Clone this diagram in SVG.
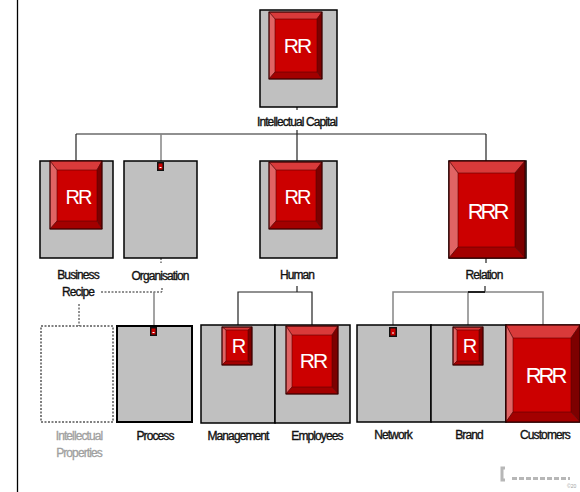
<svg xmlns="http://www.w3.org/2000/svg" width="580" height="492" viewBox="0 0 580 492">
<style>
.box{fill:#c0c0c0;stroke:#000;stroke-width:1.5}
.ghost{fill:#fff;stroke:#000;stroke-width:1;stroke-dasharray:2 1.5}
.face{fill:#cc0000}
.bt{fill:#d93a3a;stroke:#5a0000;stroke-width:0.6}
.bl{fill:#e06464;stroke:#5a0000;stroke-width:0.6}
.br{fill:#7d0000;stroke:#5a0000;stroke-width:0.6}
.bb{fill:#a30000;stroke:#5a0000;stroke-width:0.6}
.bo{fill:none;stroke:#300;stroke-width:1}
.rt{font-family:"Liberation Sans",Arial,sans-serif;fill:#fff;text-anchor:middle;letter-spacing:-2px}
.lbl{font-family:"Liberation Sans",Arial,sans-serif;font-size:12px;fill:#111;stroke:#111;stroke-width:0.35;text-anchor:middle;letter-spacing:-0.9px}
.glbl{font-family:"Liberation Sans",Arial,sans-serif;font-size:12px;fill:#a0a0a0;stroke:#a0a0a0;stroke-width:0.3;text-anchor:middle;letter-spacing:-0.9px}
.ln{stroke:#222;stroke-width:1.2;fill:none}
.gl{stroke:#858585;stroke-width:1.5;fill:none}
.dl{stroke:#222;stroke-width:1;stroke-dasharray:2 1.5;fill:none}
</style>
<rect x="0" y="0" width="580" height="492" fill="#fff"/>
<line x1="17.5" y1="0" x2="17.5" y2="492" stroke="#000" stroke-width="1.3"/>

<g id="connectors">
  <line class="ln" x1="297" y1="107" x2="297" y2="110"/>
  <line class="ln" x1="76" y1="134" x2="486" y2="134"/>
  <line class="ln" x1="76" y1="134" x2="76" y2="161"/>
  <line class="gl" x1="161" y1="134" x2="161" y2="161"/>
  <line class="ln" x1="297" y1="130" x2="297" y2="161"/>
  <line class="ln" x1="486" y1="134" x2="486" y2="161"/>
  <line class="dl" x1="161" y1="258" x2="161" y2="263"/>
  <line class="ln" x1="486" y1="258" x2="486" y2="263"/>
  <polyline class="dl" points="101,292 162,292 162,288"/>
  <line class="gl" x1="154" y1="292" x2="154" y2="327"/>
  <line class="dl" x1="79" y1="304" x2="79" y2="326"/>
  <line class="ln" x1="297" y1="286" x2="297" y2="292"/>
  <polyline class="ln" points="238,325 238,292 312,292 312,325"/>
  <line class="ln" x1="485" y1="286" x2="485" y2="292"/>
  <polyline class="gl" points="393,325 393,292 543,292 543,325"/>
  <line class="gl" x1="468" y1="292" x2="468" y2="325"/>
  <line x1="468" y1="292" x2="485" y2="292" stroke="#000" stroke-width="1.6"/>
</g>

<g id="intellectual-capital">
  <rect class="box" x="260" y="10" width="77" height="97"/>
  <rect class="face" x="275" y="19" width="42" height="53"/>
  <polygon class="bt" points="269,12 322,12 317,19 275,19"/>
  <polygon class="bl" points="269,12 275,19 275,72 269,79"/>
  <polygon class="br" points="322,12 322,79 317,72 317,19"/>
  <polygon class="bb" points="269,79 275,72 317,72 322,79"/>
  <rect class="bo" x="269" y="12" width="53" height="67"/>
  <text class="rt" x="297" y="53" font-size="21">RR</text>
  <text class="lbl" x="297" y="126">Intellectual Capital</text>
</g>

<g id="business-recipe">
  <rect class="box" x="40" y="161" width="73" height="97"/>
  <rect class="face" x="57" y="170" width="40" height="51"/>
  <polygon class="bt" points="50,161 102,161 97,170 57,170"/>
  <polygon class="bl" points="50,161 57,170 57,221 50,229"/>
  <polygon class="br" points="102,161 102,229 97,221 97,170"/>
  <polygon class="bb" points="50,229 57,221 97,221 102,229"/>
  <rect class="bo" x="50" y="161" width="52" height="68"/>
  <text class="rt" x="78" y="204" font-size="20">RR</text>
  <text class="lbl" x="78" y="279">Business</text>
  <text class="lbl" x="78" y="296">Recipe</text>
</g>

<g id="organisation">
  <rect class="box" x="124" y="161" width="73" height="97"/>
  <rect x="157" y="162" width="7" height="9" fill="#111"/>
  <rect x="158.5" y="163.5" width="4" height="6" fill="#cc0000"/>
  <rect x="159.5" y="167" width="2" height="1" fill="#fff"/>
  <text class="lbl" x="160" y="280">Organisation</text>
</g>

<g id="human">
  <rect class="box" x="260" y="161" width="77" height="97"/>
  <rect class="face" x="276" y="170" width="40" height="51"/>
  <polygon class="bt" points="269,162 322,162 316,170 276,170"/>
  <polygon class="bl" points="269,162 276,170 276,221 269,229"/>
  <polygon class="br" points="322,162 322,229 316,221 316,170"/>
  <polygon class="bb" points="269,229 276,221 316,221 322,229"/>
  <rect class="bo" x="269" y="162" width="53" height="67"/>
  <text class="rt" x="297" y="204" font-size="20">RR</text>
  <text class="lbl" x="297" y="279">Human</text>
</g>

<g id="relation">
  <rect class="box" x="449" y="161" width="77" height="97"/>
  <rect class="face" x="458" y="173" width="57" height="74"/>
  <polygon class="bt" points="449,161 525,161 515,173 458,173"/>
  <polygon class="bl" points="449,161 458,173 458,247 449,258"/>
  <polygon class="br" points="525,161 525,258 515,247 515,173"/>
  <polygon class="bb" points="449,258 458,247 515,247 525,258"/>
  <rect class="bo" x="449" y="161" width="76" height="97"/>
  <text class="rt" x="487" y="219" font-size="22" style="letter-spacing:-3px">RRR</text>
  <text class="lbl" x="484" y="279">Relation</text>
</g>

<g id="intellectual-properties">
  <rect class="ghost" x="41" y="326" width="72" height="96"/>
  <text class="glbl" x="79" y="440">Intellectual</text>
  <text class="glbl" x="79" y="457">Properties</text>
</g>

<g id="process">
  <rect class="box" x="117" y="326" width="75" height="96" style="stroke-width:2"/>
  <rect x="150" y="327" width="7" height="9" fill="#111"/>
  <rect x="151.5" y="328.5" width="4" height="6" fill="#cc0000"/>
  <rect x="152.5" y="332" width="2" height="1" fill="#fff"/>
  <text class="lbl" x="155" y="440">Process</text>
</g>

<g id="management">
  <rect class="box" x="201" y="325" width="74" height="98"/>
  <rect class="face" x="226" y="330" width="22" height="31"/>
  <polygon class="bt" points="222,327 252,327 248,330 226,330"/>
  <polygon class="bl" points="222,327 226,330 226,361 222,365"/>
  <polygon class="br" points="252,327 252,365 248,361 248,330"/>
  <polygon class="bb" points="222,365 226,361 248,361 252,365"/>
  <rect class="bo" x="222" y="327" width="30" height="38"/>
  <text class="rt" x="238" y="353" font-size="20">R</text>
  <text class="lbl" x="238" y="440">Management</text>
</g>

<g id="employees">
  <rect class="box" x="275" y="325" width="75" height="98"/>
  <rect class="face" x="292" y="335" width="40" height="52"/>
  <polygon class="bt" points="286,326 338,326 332,335 292,335"/>
  <polygon class="bl" points="286,326 292,335 292,387 286,394"/>
  <polygon class="br" points="338,326 338,394 332,387 332,335"/>
  <polygon class="bb" points="286,394 292,387 332,387 338,394"/>
  <rect class="bo" x="286" y="326" width="52" height="68"/>
  <text class="rt" x="313" y="368" font-size="21">RR</text>
  <text class="lbl" x="317" y="440">Employees</text>
</g>

<g id="network">
  <rect class="box" x="357" y="325" width="74" height="97"/>
  <rect x="389" y="327" width="8" height="10" fill="#111"/>
  <rect x="390.5" y="328.5" width="5" height="7" fill="#cc0000"/>
  <rect x="392" y="332.5" width="2" height="1" fill="#fff"/>
  <text class="lbl" x="393" y="439">Network</text>
</g>

<g id="brand">
  <rect class="box" x="431" y="325" width="75" height="97"/>
  <rect class="face" x="457" y="330" width="22" height="31"/>
  <polygon class="bt" points="453,327 483,327 479,330 457,330"/>
  <polygon class="bl" points="453,327 457,330 457,361 453,365"/>
  <polygon class="br" points="483,327 483,365 479,361 479,330"/>
  <polygon class="bb" points="453,365 457,361 479,361 483,365"/>
  <rect class="bo" x="453" y="327" width="30" height="38"/>
  <text class="rt" x="469" y="353" font-size="20">R</text>
  <text class="lbl" x="469" y="439">Brand</text>
</g>

<g id="customers">
  <rect class="box" x="506" y="325" width="74" height="97"/>
  <rect class="face" x="513" y="338" width="58" height="74"/>
  <polygon class="bt" points="506,325 580,325 571,338 513,338"/>
  <polygon class="bl" points="506,325 513,338 513,412 506,422"/>
  <polygon class="br" points="580,325 580,422 571,412 571,338"/>
  <polygon class="bb" points="506,422 513,412 571,412 580,422"/>
  <rect class="bo" x="506" y="325" width="74" height="97"/>
  <text class="rt" x="545" y="383" font-size="22" style="letter-spacing:-3px">RRR</text>
  <text class="lbl" x="545" y="439">Customers</text>
</g>

<g id="watermark" opacity="0.7">
  <path d="M505,468 h-3 v12 h3" fill="none" stroke="#999" stroke-width="3"/>
  <line x1="512" y1="478.5" x2="570" y2="478.5" stroke="#999" stroke-width="3" stroke-dasharray="5 2"/>
  <text x="567" y="488" font-family="Liberation Sans,sans-serif" font-size="5" fill="#777">©20</text>
</g>
</svg>
